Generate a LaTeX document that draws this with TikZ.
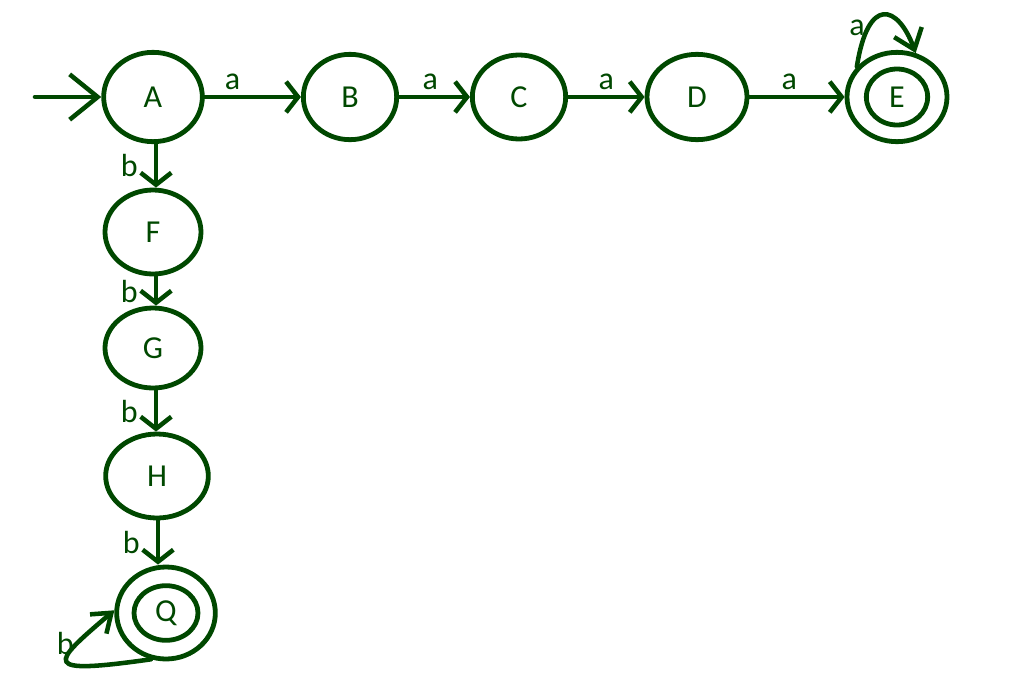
\documentclass[tikz,border=0pt]{standalone}
\usepackage{fontspec}
\setmainfont{Carlito}
\usetikzlibrary{arrows.meta}
\usetikzlibrary{shapes.geometric}
\definecolor{fsmgreen}{RGB}{0,72,0}
\tikzset{state/.style = {draw=fsmgreen, line width=3.6pt, shape=ellipse,
                         inner sep=0pt, text=fsmgreen,
                         minimum width=73pt, minimum height=64pt},
         trans/.style = {draw=fsmgreen, line width=3.4pt, line cap=round, line join=round,
                         -{Straight Barb[length=9pt,width=23pt]}},
         lbl/.style = {text=fsmgreen, inner sep=1pt}}

\begin{document}
\begin{tikzpicture}[x=0.75pt, y=-0.75pt, font=\fontsize{24}{28}\selectfont]
    \useasboundingbox (0, 0) rectangle (1014, 686);

    \node [state, minimum width=74pt, minimum height=67pt] (A) at (153, 97) {A};
    \node [state, minimum width=70pt] (B) at (350, 97) {B};
    \node [state, minimum width=70pt, minimum height=63pt] (C) at (519, 97) {C};
    \node [state, minimum width=75pt] (D) at (697, 97) {D};
    \node [state, minimum width=75pt, minimum height=67pt] (E) at (897, 97) {E};
    \draw [fsmgreen, line width=3.6pt] (E.center) ellipse [x radius=23pt, y radius=21pt];

    \node [state, minimum width=72pt, minimum height=63pt] (F) at (153, 232) {F};
    \node [state, minimum width=72pt, minimum height=60pt] (G) at (153, 348) {G};
    \node [state, minimum width=77pt, minimum height=63pt] (H) at (157, 476) {H};
    \node [state, minimum width=74pt, minimum height=69pt] (Q) at (166, 613) {Q};
    \draw [fsmgreen, line width=3.6pt] (Q.center) ellipse [x radius=24pt, y radius=20.5pt];

    \coordinate (start) at (35, 97);
    \draw [trans, -{Straight Barb[length=21pt,width=34pt]}] (start) -- (A);

    \draw [trans] (A) -- node [lbl, above=3pt, pos=0.29] {a} (B);
    \draw [trans] (B) -- node [lbl, above=3pt, pos=0.44] {a} (C);
    \draw [trans] (C) -- node [lbl, above=3pt, pos=0.5] {a} (D);
    \draw [trans] (D) -- node [lbl, above=3pt, pos=0.42] {a} (E);

    \draw [trans] (A.south -| 156, 0) -- node [lbl, left=11pt] {b} (F.north -| 156, 0);
    \draw [trans] (F.south -| 156, 0) -- node [lbl, left=11pt] {b} (G.north -| 156, 0);
    \draw [trans] (G.south -| 156, 0) -- node [lbl, left=11pt] {b} (H.north -| 156, 0);
    \draw [trans] (H.south -| 158, 0) -- node [lbl, left=11pt] {b} (Q.north -| 158, 0);

    % loops
    \draw [trans, -{Straight Barb[length=14pt,width=22pt]}]
      (E.143) .. controls (868, -5) and (898, 5) .. node [lbl, left, pos=0.25] {a} (E.67);
    \draw [trans, -{Straight Barb[length=13pt,width=19pt]}]
      (Q.252) .. controls (40, 675) and (50, 665) .. node [lbl, left, pos=0.75] {b} (Q.177);
\end{tikzpicture}
\end{document}
